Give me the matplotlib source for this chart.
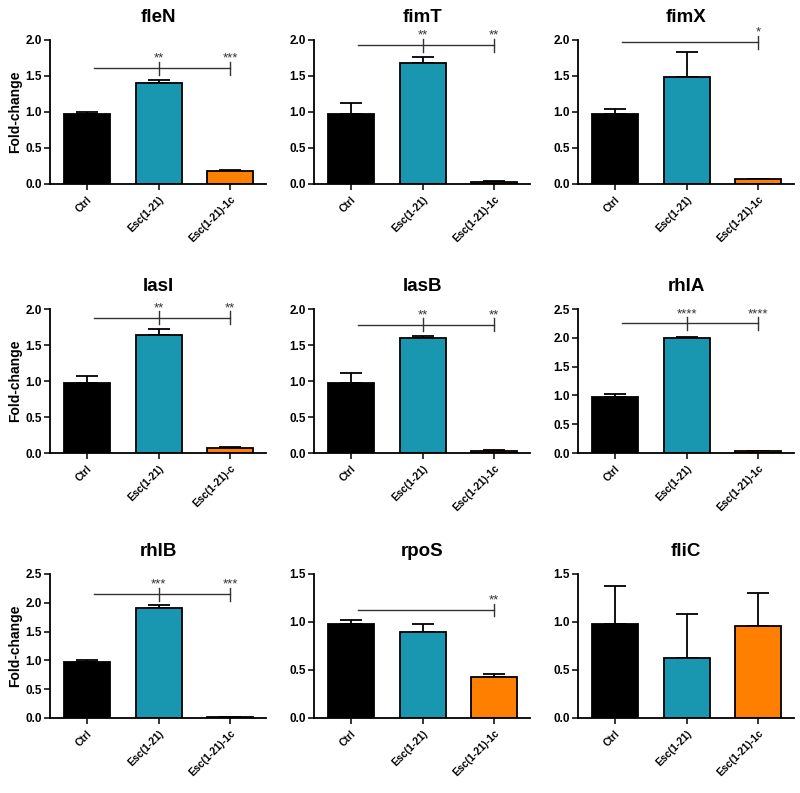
import numpy as np
import matplotlib.pyplot as plt

plt.rcParams['font.family'] = ['Liberation Sans', 'DejaVu Sans']
plt.rcParams['font.weight'] = 'bold'

grupos = ["Ctrl", "Esc(1-21)", "Esc(1-21)-1c"]
colores = ["#000000", "#1a97b0", "#ff8000"]

genes = ["fleN", "fimT", "fimX", "lasI", "lasB", "rhlA", "rhlB", "rpoS", "fliC"]

# media y error (solo hacia arriba) por gen
fleN_media = [0.97, 1.40, 0.18]
fleN_err = [0.03, 0.05, 0.01]
fimT_media = [0.975, 1.68, 0.03]
fimT_err = [0.15, 0.09, 0.005]
fimX_media = [0.975, 1.48, 0.065]
fimX_err = [0.06, 0.36, 0.01]
lasI_media = [0.976, 1.64, 0.075]
lasI_err = [0.09, 0.08, 0.01]
lasB_media = [0.977, 1.60, 0.03]
lasB_err = [0.13, 0.03, 0.005]
rhlA_media = [0.965, 1.99, 0.03]
rhlA_err = [0.065, 0.02, 0.005]
rhlB_media = [0.965, 1.91, 0.02]
rhlB_err = [0.045, 0.06, 0.005]
rpoS_media = [0.98, 0.90, 0.43]
rpoS_err = [0.04, 0.08, 0.03]
fliC_media = [0.98, 0.63, 0.96]
fliC_err = [0.40, 0.45, 0.34]

medias = [fleN_media, fimT_media, fimX_media, lasI_media, lasB_media,
          rhlA_media, rhlB_media, rpoS_media, fliC_media]
errores = [fleN_err, fimT_err, fimX_err, lasI_err, lasB_err,
           rhlA_err, rhlB_err, rpoS_err, fliC_err]
ymax = [2.0, 2.0, 2.0, 2.0, 2.0, 2.5, 2.5, 1.5, 1.5]

# significancia: altura de la linea, estrellas vs Esc(1-21), estrellas vs Esc(1-21)-1c
sig_altura = [1.61, 1.93, 1.97, 1.88, 1.78, 2.25, 2.15, 1.125, None]
sig_esc = ["**", "**", None, "**", "**", "****", "***", None, None]
sig_esc1c = ["***", "**", "*", "**", "**", "****", "***", "**", None]

fig = plt.figure(figsize=(8, 7.93), dpi=100)

lefts = [50, 314, 578]
bottoms = [184, 453, 718]
W, H = 800, 793

for i, gen in enumerate(genes):
    fila, col = divmod(i, 3)
    ax = fig.add_axes([lefts[col] / W, 1 - bottoms[fila] / H, 216 / W, 144 / H])
    x = np.arange(3)
    m = medias[i]
    e = errores[i]
    ax.errorbar(x, m, yerr=[np.zeros(3), e], fmt='none', ecolor='black',
                elinewidth=1.3, capsize=8, capthick=1.3, zorder=1)
    ax.bar(x, m, width=0.64, color=colores, edgecolor='black', linewidth=1.3, zorder=2)

    ax.set_xlim(-0.52, 2.5)
    ax.set_ylim(0, ymax[i])
    ax.set_yticks(np.arange(0, ymax[i] + 0.01, 0.5))
    ax.set_yticklabels([f"{v:.1f}" for v in np.arange(0, ymax[i] + 0.01, 0.5)])
    etiquetas = list(grupos)
    if gen == "lasI":
        etiquetas[2] = "Esc(1-21)-c"
    ax.set_xticks(x)
    ax.set_xticklabels(etiquetas, rotation=45, ha='right', rotation_mode='anchor')
    ax.tick_params(axis='both', width=1.1, length=4, direction='out')
    ax.tick_params(axis='y', labelsize=8.5, pad=2)
    ax.tick_params(axis='x', labelsize=7.5)
    for lab in ax.get_xticklabels() + ax.get_yticklabels():
        lab.set_fontweight('bold')
    for s in ['top', 'right']:
        ax.spines[s].set_visible(False)
    for s in ['left', 'bottom']:
        ax.spines[s].set_linewidth(1.3)
    ax.set_title(gen, fontsize=13.5, fontweight='bold', pad=13)
    if col == 0:
        ax.set_ylabel("Fold-change", fontsize=10, fontweight='bold', labelpad=2)

    h = sig_altura[i]
    if h is not None:
        t = 0.045 * ymax[i]
        ax.plot([0.1, 2], [h, h], color='#333333', lw=1.0, clip_on=False)
        for xp, st in [(1, sig_esc[i]), (2, sig_esc1c[i])]:
            if st is None:
                continue
            ax.plot([xp, xp], [h - t, h + t], color='#333333', lw=1.0, clip_on=False)
            ax.text(xp, h + t * 0.5, st, ha='center', va='bottom', fontsize=9.5,
                    color='#333333', fontweight='normal', clip_on=False)

fig.savefig("out.png", dpi=100)
